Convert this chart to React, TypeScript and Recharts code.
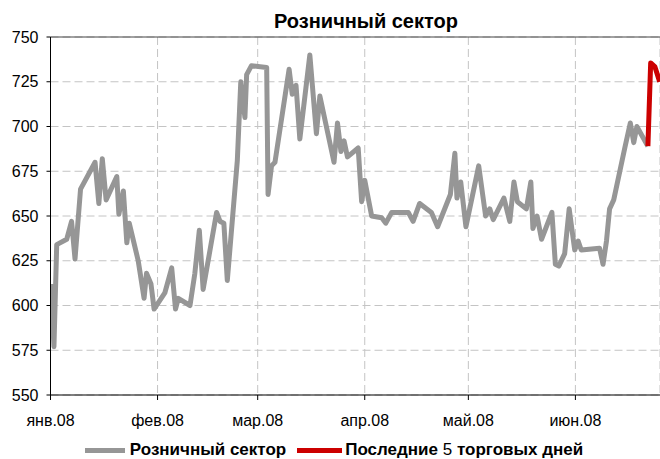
import React from 'react';
import { LineChart, Line, XAxis, YAxis, CartesianGrid, ReferenceLine, Legend } from 'recharts';

// day of year (0 = 1 Jan 2008) and index value
const retailDays = [
  0.1, 1.0, 1.8, 4.7, 6.1, 7.1, 8.7, 12.9, 14.0, 15.0, 16.1, 19.2, 19.8, 21.1, 22.1, 22.8,
  25.4, 27.1, 27.8, 29.1, 30.0, 33.1, 35.1, 36.2, 37.0, 40.4, 41.8, 43.1, 44.2, 48.1, 49.1,
  50.2, 51.2, 54.1, 55.1, 56.3, 56.8, 58.2, 62.6, 63.0, 64.0, 65.0, 69.1, 70.0, 71.1, 72.2,
  75.1, 77.0, 78.0, 82.1, 83.1, 84.1, 85.0, 86.0, 89.1, 90.1, 91.0, 93.0, 95.9, 97.1, 98.8,
  103.6, 105.0, 106.9, 110.3, 112.1, 115.8, 117.1, 117.7, 118.8, 120.3, 124.0, 126.0, 127.2,
  128.2, 131.3, 133.0, 134.2, 135.2, 137.8, 139.1, 139.7, 140.9, 142.2, 145.2, 146.2, 147.2,
  148.9, 150.2, 151.8, 152.8, 153.7, 159.0, 160.0, 161.0, 161.9, 163.1, 166.3, 167.9, 168.9,
  169.8, 173.0,
];
const retailValues = [
  612, 577, 634, 637, 647, 626, 665, 680, 657, 682, 659, 672, 651, 664, 635, 646,
  625, 604, 618, 612, 598, 607, 621, 598, 604, 600, 618, 642, 609, 652, 647,
  646, 614, 681, 725, 705, 729, 734, 733, 662, 678, 680, 732, 718, 723, 693,
  740, 696, 717, 680, 702, 686, 692, 683, 688, 658, 670, 650, 649, 646, 652,
  652, 647, 657, 652, 644, 662, 685, 660, 669, 644, 678, 650, 654,
  648, 660, 647, 669, 658, 654, 669, 643, 650, 637, 652, 623, 622,
  629, 654, 631, 636, 631, 632, 623, 636, 654, 659, 688, 702, 691,
  700, 689,
];

const lastDays = [173.0, 173.8, 175.0, 176.4];
const lastValues = [689, 735.5, 733.5, 725];

const monthTicks = [0, 31, 60, 91, 121, 152];
const monthLabels = ['янв.08', 'фев.08', 'мар.08', 'апр.08', 'май.08', 'июн.08'];
const yTicks = [550, 575, 600, 625, 650, 675, 700, 725, 750];

const retailData = retailDays.map((day, i) => ({ day, value: retailValues[i] }));
const lastData = lastDays.map((day, i) => ({ day, value: lastValues[i] }));

const FONT = '"Liberation Sans", Arial, sans-serif';

const LegendContent = () => (
  <div
    style={{
      display: 'flex',
      justifyContent: 'center',
      alignItems: 'center',
      height: 22,
      fontFamily: FONT,
      fontSize: 17,
      fontWeight: 'bold',
      color: '#000',
      paddingTop: 4,
      boxSizing: 'border-box',
    }}
  >
    <span style={{ display: 'inline-block', width: 40, height: 5, background: '#969696', marginRight: 5 }} />
    <span>Розничный сектор</span>
    <span style={{ display: 'inline-block', width: 45, height: 5, background: '#cc0000', marginLeft: 11, marginRight: 3 }} />
    <span>
      Последние <span style={{ fontWeight: 'normal' }}>5</span> торговых дней
    </span>
  </div>
);

export default function App() {
  return (
    <div style={{ position: 'relative', width: 652, height: 451 }}>
      {/* the chart runs to the window's right edge, so the page box must be as wide as it */}
      <style>
        {'html { overflow: hidden; width: 660px; } body { width: 652px; min-width: 652px; } #root { width: 652px; height: 451px; }'}
      </style>
      <div
        style={{
          position: 'absolute',
          left: 0,
          top: 2,
          width: 716,
          textAlign: 'center',
          fontFamily: FONT,
          fontSize: 20,
          fontWeight: 'bold',
          lineHeight: '22px',
        }}
      >
        Розничный сектор
      </div>
      <LineChart width={652} height={451} margin={{ top: 29, right: 0, left: 0, bottom: 0 }}>
        <CartesianGrid stroke="#c4c4c4" strokeDasharray="8 4" />
        <XAxis
          type="number"
          dataKey="day"
          domain={[0, 176.5]}
          allowDataOverflow
          ticks={monthTicks}
          tickFormatter={(v: number) => monthLabels[monthTicks.indexOf(v)]}
          height={42}
          tickSize={5}
          tickMargin={15}
          stroke="#000"
          tick={{ fill: '#000', fontSize: 16, fontFamily: FONT }}
        />
        <YAxis
          type="number"
          domain={[550, 750]}
          ticks={yTicks}
          width={42.5}
          tickSize={4}
          tickMargin={8}
          stroke="#000"
          tick={{ fill: '#000', fontSize: 16, fontFamily: FONT }}
        />
        <ReferenceLine y={750} stroke="#444" strokeWidth={1} />
        <Legend verticalAlign="bottom" content={<LegendContent />} wrapperStyle={{ height: 22 }} />
        <Line
          data={retailData}
          dataKey="value"
          name="Розничный сектор"
          stroke="#969696"
          strokeWidth={5}
          strokeLinejoin="round"
          dot={false}
          isAnimationActive={false}
        />
        <Line
          data={lastData}
          dataKey="value"
          name="Последние 5 торговых дней"
          stroke="#cc0000"
          strokeWidth={5}
          strokeLinejoin="round"
          dot={false}
          isAnimationActive={false}
        />
      </LineChart>
    </div>
  );
}
